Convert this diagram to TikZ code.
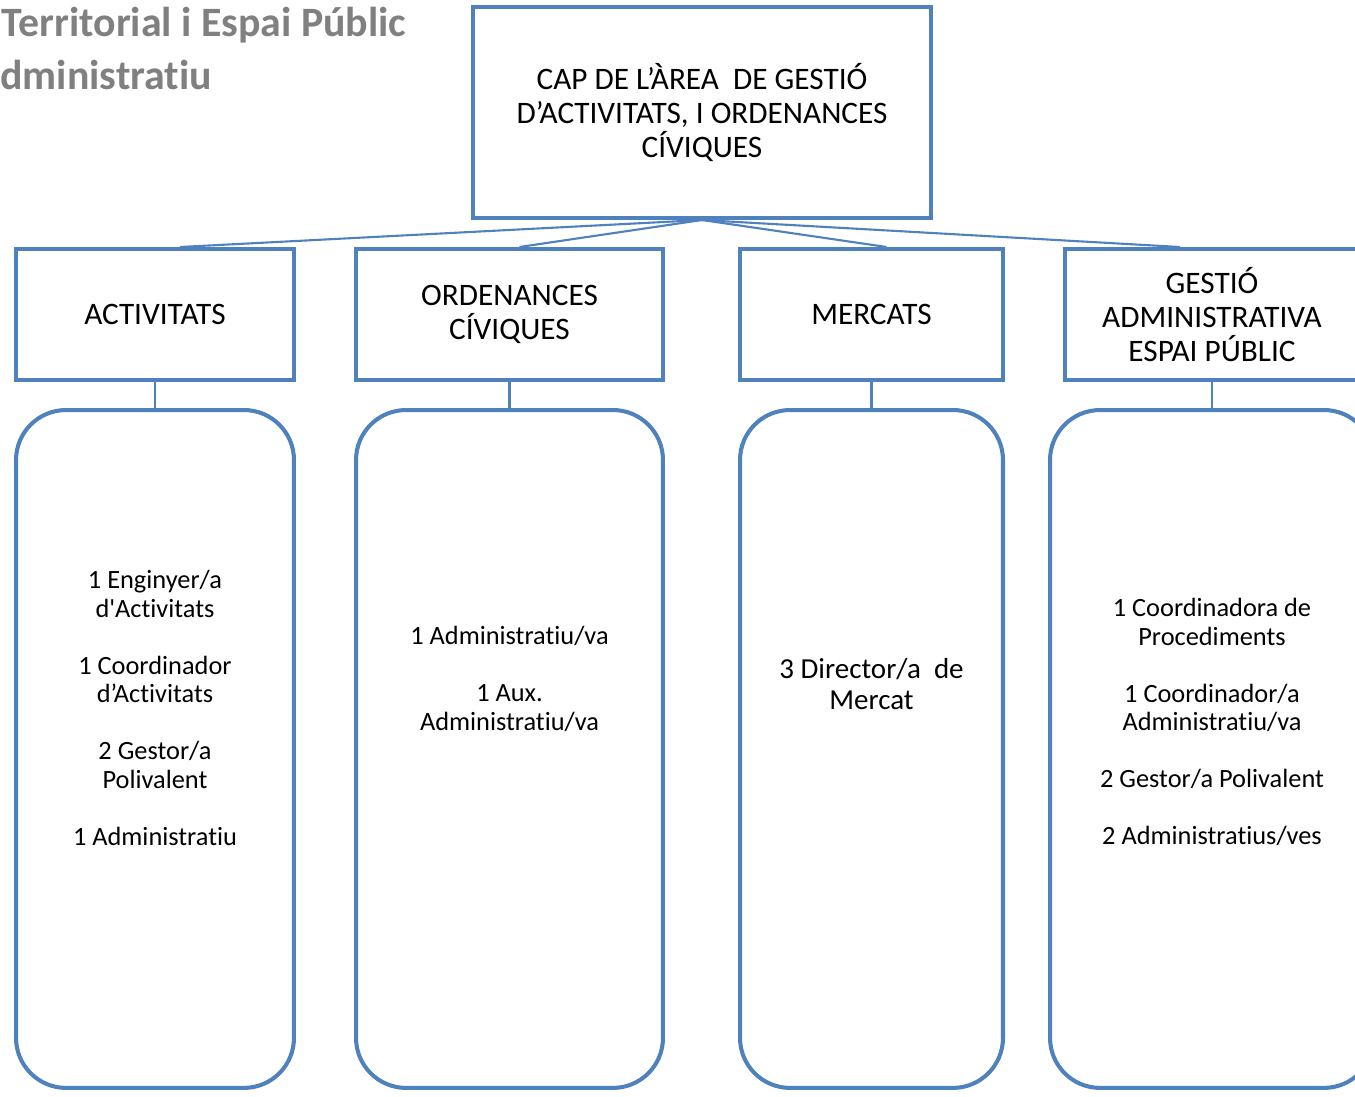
\documentclass[tikz,border=0pt]{standalone}
\usepackage{fontspec}
\setmainfont{Carlito}[Ligatures={TeXOff,NoCommon}]
\usetikzlibrary{positioning}
\definecolor{orgblue}{RGB}{79,129,189}
\definecolor{titlegray}{RGB}{128,128,128}

\begin{document}
\begin{tikzpicture}[
    x=0.02cm, y=-0.02cm,
    headbox/.style={rectangle, draw=orgblue, line width=2.3pt, fill=white, align=center, inner sep=2pt, font=\fontsize{17.8}{19.6}\selectfont},
    listbox/.style={rectangle, draw=orgblue, line width=2.3pt, rounded corners=1cm, minimum height=13.56cm},
    listtext/.style={align=center, font=\fontsize{15}{16.2}\selectfont},
    titletext/.style={inner sep=0pt, text=titlegray, font=\fontsize{23.8}{30}\selectfont\bfseries},
    link/.style={draw=orgblue, line width=1.2pt},
]

\useasboundingbox (0,0) rectangle (1355,1096);
\clip (0,0) rectangle (1355,1096);

% ============ Title ============
\node[titletext, anchor=base west] (titletop) at (1,36) {Territorial i Espai Públic};
\node[titletext, anchor=base west] (titlebottom) at (0,89) {dministratiu};

% ============ Head of area ============
\node[headbox, minimum width=9.16cm, minimum height=4.22cm] (cap) at (702,112.5) {CAP DE L’ÀREA\ \ DE GESTIÓ\\D’ACTIVITATS, I ORDENANCES\\CÍVIQUES};

% ============ Units ============
\node[headbox, minimum width=5.56cm, minimum height=2.62cm] (acthead) at (155,314.5) {ACTIVITATS};
\node[headbox, minimum width=6.14cm, minimum height=2.62cm] (ordhead) at (509.5,314.5) {ORDENANCES\\CÍVIQUES};
\node[headbox, minimum width=5.26cm, minimum height=2.62cm] (merhead) at (871.5,314.5) {MERCATS};
\node[headbox, minimum width=5.88cm, minimum height=2.62cm] (geshead) at (1212,314.5) {GESTIÓ\\ADMINISTRATIVA\\ESPAI PÚBLIC};

% Head to units
\draw[link] (cap.south) -- ([xshift=0.5cm]acthead.north);
\draw[link] (cap.south) -- ([xshift=0.2cm]ordhead.north);
\draw[link] (cap.south) -- ([xshift=0.3cm]merhead.north);
\draw[link] (cap.south) -- ([xshift=-0.64cm]geshead.north);

% ============ Staff lists ============
\node[listbox, minimum width=5.56cm, below=0.52cm of acthead] (actbox) {};
\node[listbox, minimum width=6.14cm, below=0.52cm of ordhead] (ordbox) {};
\node[listbox, minimum width=5.26cm, below=0.52cm of merhead] (merbox) {};
\node[listbox, minimum width=6.48cm, below=0.52cm of geshead] (gesbox) {};

\node[listtext] (actlist) at (155,708) {1 Enginyer/a\\d'Activitats\\[16.2pt]1 Coordinador\\d’Activitats\\[16.2pt]2 Gestor/a\\Polivalent\\[16.2pt]1 Administratiu};
\node[listtext] (ordlist) at (509.5,679) {1 Administratiu/va\\[16.2pt]1 Aux.\\Administratiu/va};
\node[listtext, font=\fontsize{16.5}{18}\selectfont] (merlist) at (871.5,684) {3 Director/a\ \ de\\Mercat};
\node[listtext] (geslist) at (1212,722) {1 Coordinadora de\\Procediments\\[16.2pt]1 Coordinador/a\\Administratiu/va\\[16.2pt]2 Gestor/a Polivalent\\[16.2pt]2 Administratius/ves};

% Units to lists
\draw[link] (acthead) -- (actbox);
\draw[link] (ordhead) -- (ordbox);
\draw[link] (merhead) -- (merbox);
\draw[link] (geshead) -- (gesbox);

\end{tikzpicture}
\end{document}
